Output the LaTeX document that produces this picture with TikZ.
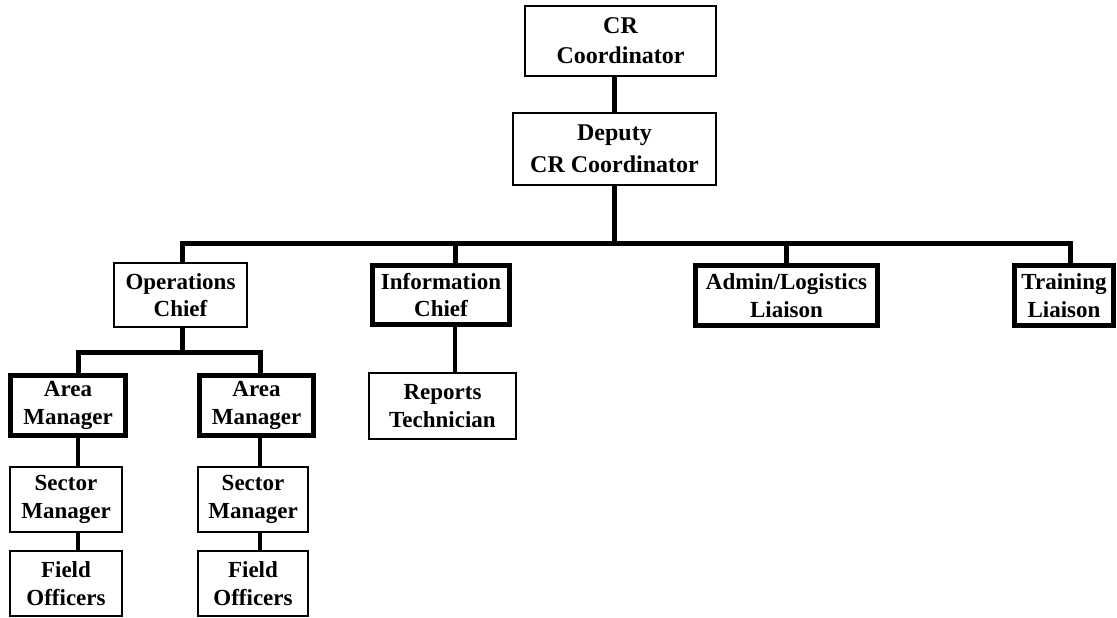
\documentclass[tikz,border=0pt]{standalone}
\usepackage{fontspec}
\setmainfont{Liberation Serif}
\begin{document}
\begin{tikzpicture}[x=1pt,y=-1pt,
  thinbox/.style={draw, line width=2pt, inner sep=0pt, align=center,
    font=\fontsize{23}{27.5}\selectfont\bfseries},
  thickbox/.style={thinbox, line width=5pt},
  bus/.style={line width=5pt, line join=miter},
  link/.style={line width=3.5pt}]
\useasboundingbox[fill=white] (0,0) rectangle (1117,618);
% boxes
\node[thinbox, font=\fontsize{24}{30}\selectfont\bfseries, minimum width=191pt, minimum height=70pt] (cr) at (620.5,41) {CR\\Coordinator};
\node[thinbox, font=\fontsize{24}{32}\selectfont\bfseries, minimum width=203pt, minimum height=72pt] (dep) at (614.5,149) {Deputy\\CR\ Coordinator};
\node[thinbox, minimum width=133pt, minimum height=64pt] (ops) at (180.5,295) {Operations\\Chief};
\node[thickbox, minimum width=137pt, minimum height=59pt] (info) at (441,295) {Information\\Chief};
\node[thickbox, minimum width=182pt, minimum height=60pt] (admin) at (786.5,295.5) {Admin/Logistics\\Liaison};
\node[thickbox, minimum width=99pt, minimum height=60pt] (train) at (1064,295.5) {Training\\Liaison};
\node[thinbox, minimum width=147pt, minimum height=66pt] (reports) at (442.5,406) {Reports\\Technician};
\node[thickbox, minimum width=115pt, minimum height=60pt] (areaL) at (68,405.5) {Area\\Manager};
\node[thickbox, minimum width=114pt, minimum height=60pt] (areaR) at (256.5,405.5) {Area\\Manager};
\node[thinbox, minimum width=112pt, minimum height=65pt] (secL) at (66,499.5) {Sector\\Manager};
\node[thinbox, minimum width=110pt, minimum height=65pt] (secR) at (253,499.5) {Sector\\Manager};
\node[thinbox, minimum width=112pt, minimum height=65pt] (fieldL) at (66,583.5) {Field\\Officers};
\node[thinbox, minimum width=110pt, minimum height=65pt] (fieldR) at (253,583.5) {Field\\Officers};
% bus coordinates
\coordinate (busL) at (182,243);
\coordinate (busR) at (1070,243);
\coordinate (infoX) at (455,243);
\coordinate (subL) at (78,352);
\coordinate (subR) at (260,352);
% connectors
\draw[bus] (dep.north) -- (dep.north |- cr.south);
\draw[bus] (dep.south) -- (dep.south |- busL);
\draw[bus] (ops.north -| busL) -- (busL) -- (busR) -- (train.north -| busR);
\draw[bus] (infoX) -- (infoX |- info.north);
\draw[bus] (admin.north) -- (admin.north |- busL);
\draw[link] (info.south -| infoX) -- (reports.north -| infoX);
\draw[bus] (ops.south -| busL) -- (busL |- subL);
\draw[bus] (areaL.north -| subL) -- (subL) -- (subR) -- (areaR.north -| subR);
\draw[link] (areaL.south -| subL) -- (secL.north -| subL);
\draw[link] (areaR.south -| subR) -- (secR.north -| subR);
\draw[link] (secL.south -| subL) -- (fieldL.north -| subL);
\draw[link] (secR.south -| subR) -- (fieldR.north -| subR);
\end{tikzpicture}
\end{document}
